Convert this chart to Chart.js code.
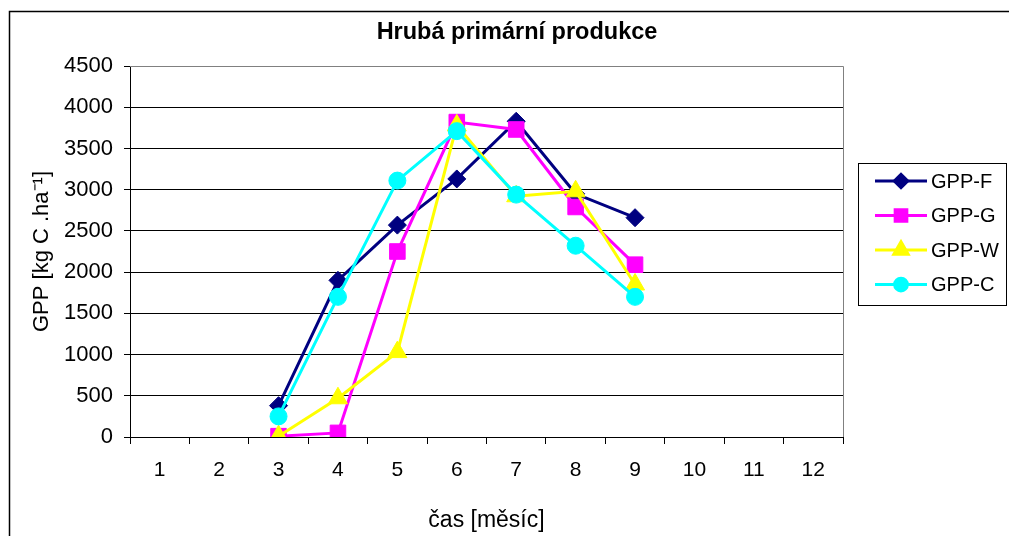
<!DOCTYPE html>
<html>
<head>
<meta charset="utf-8">
<script src="https://cdn.jsdelivr.net/npm/chart.js@4"></script>
<style>
  body { margin: 0; background: #fff; }
  canvas { display: block; }
</style>
</head>
<body>
<canvas id="gppChart" width="1009" height="536"></canvas>
<script>
const months = ["1", "2", "3", "4", "5", "6", "7", "8", "9", "10", "11", "12"];
const gppF = [null, null, 380, 1900, 2570, 3130, 3830, 2950, 2660, null, null, null];
const gppG = [null, null, 10, 50, 2250, 3820, 3730, 2790, 2090, null, null, null];
const gppW = [null, null, 10, 470, 1030, 3780, 2920, 2980, 1850, null, null, null];
const gppC = [null, null, 250, 1700, 3110, 3710, 2940, 2320, 1700, null, null, null];

const FONT = "'Liberation Sans', Arial, sans-serif";

function series(label, data, color, style, radius, order) {
  return {
    label: label,
    data: data,
    borderColor: color,
    backgroundColor: color,
    pointBackgroundColor: color,
    pointBorderColor: color,
    borderWidth: 3,
    pointStyle: style,
    pointRadius: radius,
    pointBorderWidth: 1,
    legendRadius: radius * 0.75,
    tension: 0,
    spanGaps: false,
    order: order,
  };
}

// frame, title, plot border and the boxed legend
const excelLook = {
  id: "excelLook",
  beforeDraw(chart) {
    const c = chart.ctx;
    c.save();
    c.fillStyle = "#fff";
    c.fillRect(0, 0, chart.width, chart.height);
    c.strokeStyle = "#000";
    c.lineWidth = 1.5;
    c.strokeRect(9.5, 11.5, 1200, 700);
    c.restore();
  },
  afterDraw(chart) {
    const c = chart.ctx;
    const a = chart.chartArea;
    c.save();
    c.strokeStyle = "#808080";
    c.lineWidth = 1;
    c.beginPath();
    c.moveTo(a.left, a.top + 0.5);
    c.lineTo(a.right + 0.5, a.top + 0.5);
    c.lineTo(a.right + 0.5, a.bottom);
    c.stroke();

    c.fillStyle = "#000";
    c.font = "bold 23.5px " + FONT;
    c.textAlign = "center";
    c.textBaseline = "middle";
    c.fillText("Hrubá primární produkce", 517, 33);

    c.strokeStyle = "#000";
    c.lineWidth = 1;
    c.strokeRect(858.5, 163.5, 148, 142);
    c.font = "20px " + FONT;
    c.textAlign = "left";
    chart.data.datasets.forEach((ds, i) => {
      const y = 181 + i * 34.5;
      c.strokeStyle = ds.borderColor;
      c.lineWidth = 3;
      c.beginPath();
      c.moveTo(875, y);
      c.lineTo(927, y);
      c.stroke();
      c.fillStyle = ds.backgroundColor;
      Chart.helpers.drawPoint(c, {
        pointStyle: ds.pointStyle,
        radius: ds.legendRadius,
        rotation: 0,
        borderWidth: 1,
      }, 901, y);
      c.fillStyle = "#000";
      c.fillText(ds.label, 931, y + 1);
    });
    c.restore();
  },
};

new Chart(document.getElementById("gppChart"), {
  type: "line",
  data: {
    labels: months,
    datasets: [
      series("GPP-F", gppF, "#000080", "rectRot", 9, 4),
      series("GPP-G", gppG, "#ff00ff", "rect", 11, 3),
      series("GPP-W", gppW, "#ffff00", "triangle", 11, 2),
      series("GPP-C", gppC, "#00ffff", "circle", 8.5, 1),
    ],
  },
  options: {
    responsive: false,
    animation: false,
    layout: {
      padding: { left: 0, top: 66, right: 166, bottom: 0 },
    },
    plugins: {
      legend: { display: false },
      title: { display: false },
      tooltip: { enabled: false },
    },
    scales: {
      x: {
        offset: true,
        afterFit: (s) => { s.height = 99; },
        grid: {
          offset: true,
          drawOnChartArea: false,
          tickLength: 7,
          tickColor: "#000",
        },
        border: { color: "#000", width: 1 },
        ticks: {
          color: "#000",
          padding: 14,
          maxRotation: 0,
          font: { family: FONT, size: 21 },
        },
        title: {
          display: true,
          text: "čas [měsíc]",
          color: "#000",
          font: { family: FONT, size: 23 },
          padding: { top: 0, bottom: 2 },
        },
      },
      y: {
        min: 0,
        max: 4500,
        afterFit: (s) => { s.width = 130; },
        grid: {
          color: (ctx) => (ctx.tick && ctx.tick.value === 4500 ? "#808080" : "#000"),
          lineWidth: 1,
          tickLength: 6,
          tickColor: "#000",
        },
        border: { color: "#000", width: 1 },
        ticks: {
          stepSize: 500,
          color: "#000",
          padding: 11,
          font: { family: FONT, size: 22 },
          callback: (v) => String(v),
        },
        title: {
          display: true,
          text: "GPP [kg C .ha⁻¹]",
          color: "#000",
          font: { family: FONT, size: 22 },
          padding: { top: 29, bottom: 0 },
        },
      },
    },
  },
  plugins: [excelLook],
});
</script>
</body>
</html>
